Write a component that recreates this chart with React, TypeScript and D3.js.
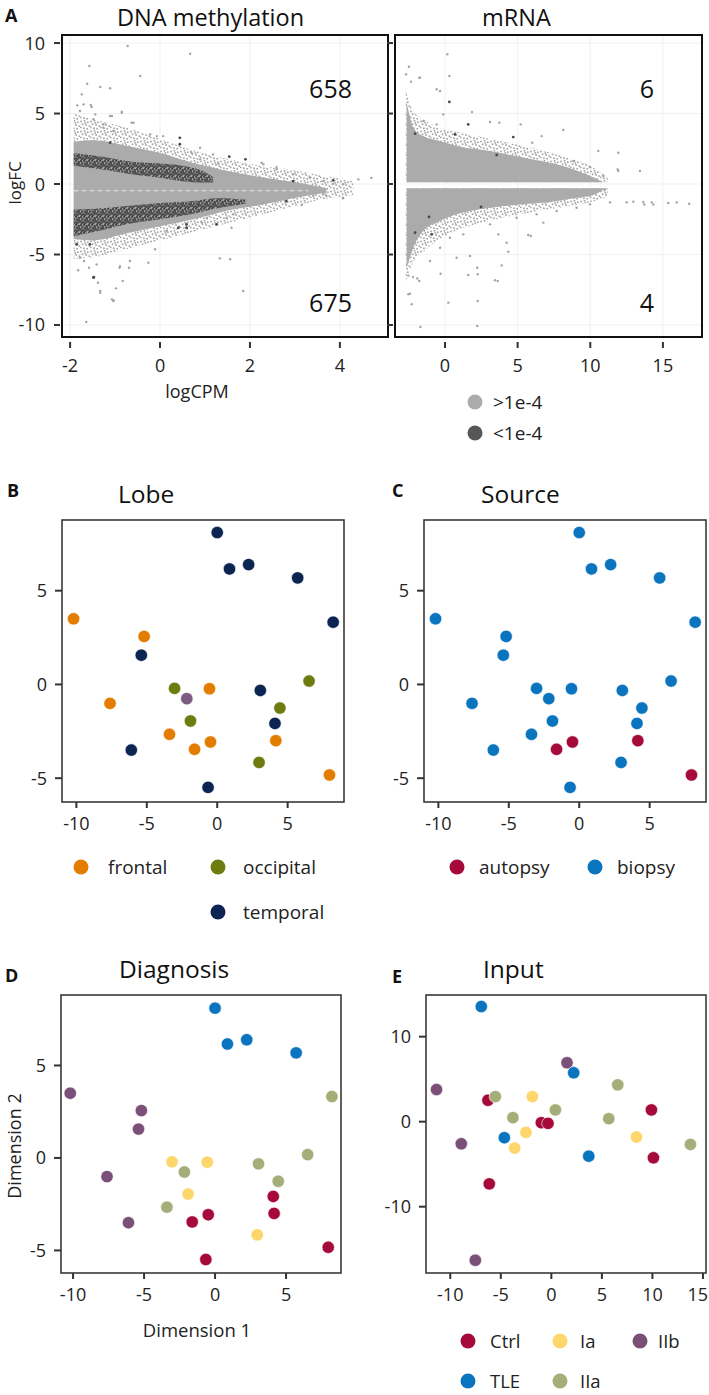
import React from "react";
import * as d3 from "d3";

const FONT = "'Open Sans', 'DejaVu Sans', sans-serif";

// ---------------- Panel A : MA plots ----------------
const maYTicks = [10, 5, 0, -5, -10];
const methXTicks = [-2, 0, 2, 4];
const rnaXTicks = [0, 5, 10, 15];
const methCounts = ["658", "675"];
const rnaCounts = ["6", "4"];
const pLabels = [">1e-4", "<1e-4"];

// DNA methylation cloud envelopes (logCPM -> logFC)
const methHaloCPM = [-1.92, -1.48, -0.74, 0, 0.74, 1.48, 2.22, 2.96, 3.6, 4.3];
const methHaloUp = [5.0, 4.6, 4.0, 3.2, 2.4, 1.8, 1.3, 1.0, 0.6, 0.2];
const methHaloLow = [-5.3, -5.2, -4.6, -4.0, -3.4, -2.8, -2.2, -1.6, -1.1, -0.8];
const methCoreCPM = [-1.92, -1.48, -0.74, 0, 0.74, 1.48, 2.22, 2.96, 3.33, 3.7];
const methCoreUp = [3.0, 3.1, 2.7, 2.2, 1.5, 0.95, 0.5, 0.15, -0.05, -0.3];
const methCoreLow = [-3.9, -4.0, -3.5, -3.0, -2.5, -1.9, -1.5, -1.0, -0.8, -0.6];
const methDarkUpCPM = [-1.92, -1.2, -0.74, 0, 0.5, 0.96, 1.18];
const methDarkUpTop = [2.2, 1.9, 1.63, 1.45, 1.3, 0.9, 0.5];
const methDarkUpBottom = [1.3, 1.0, 0.75, 0.45, 0.2, 0.1, 0.1];
const methDarkLowCPM = [-1.92, -1.2, -0.74, 0, 0.74, 1.3, 1.9];
const methDarkLowTop = [-1.8, -1.7, -1.56, -1.35, -1.2, -1.0, -1.1];
const methDarkLowBottom = [-3.7, -3.2, -2.86, -2.5, -2.1, -1.7, -1.4];
const methZeroLine = [-1.92, 3.3, -0.48]; // x from, x to, logFC

const methOutLight: [number, number][] = [
  [-0.72, 9.79], [0.67, 9.24], [-1.57, 8.37], [-0.44, 7.66], [-1.62, 7.11], [-1.33, 6.88],
  [-1.11, 6.79], [-1.84, 5.58], [-1.52, 5.46], [-0.85, 5.13], [-1.11, 4.82], [-0.59, 4.35],
  [-0.22, 3.52], [0.07, 3.4], [0.89, 2.57], [1.18, 2.1], [2.3, 1.4], [2.59, 1.04], [2.96, 0.69],
  [3.33, 0.45], [3.63, 0.21], [3.85, 0.02], [4.07, -0.02], [4.41, 0.33], [4.07, -0.97],
  [3.63, -0.73], [3.15, -1.49], [2.3, -1.33], [-1.82, -6.12], [-1.69, -5.46], [-1.58, -5.94],
  [-1.38, -7.0], [-1.33, -7.59], [-1.04, -8.3], [-0.98, -7.4], [-0.9, -5.94], [-0.69, -5.94],
  [-0.26, -5.58], [-0.11, -4.63], [1.33, -5.27], [1.85, -7.59], [-1.64, -9.79], [0.15, -3.33],
  [1.04, -2.39], [1.63, -2.15], [-1.78, -5.23], [-1.78, 5.18], [-1.74, 6.36], [-1.26, 4.23],
  [-1.48, 4.59], [-1.03, -8.25], [-0.83, -6.88], [-0.07, 3.4], [0.7, 2.22], [0.89, 1.75],
  [1.3, 1.44], [2.26, 1.51], [2.59, 1.2], [4.7, 0.43], [3.41, -0.85], [3.7, -0.85], [4.07, -1.01],
  [1.59, -3.1], [1.48, -2.39], [0.93, -2.74], [1.56, -5.34], [-0.89, -5.82], [-0.67, -5.46],
  [-1.07, -8.18], [-1.41, -5.7], [-1.33, -7.71], [-1.7, 5.65], [-1.54, 5.6], [-1.44, 4.94],
  [-1.07, 4.82], [-0.85, 5.06], [-0.63, 4.35], [-1.26, 3.99], [-1.04, 3.76],
];
const methOutDark: [number, number][] = [
  [0.44, 3.28], [0.44, 2.82], [1.54, 1.94], [1.9, 1.75], [2.81, -1.21], [-1.47, -6.6],
  [0.59, -2.86], [-1.85, -4.28], [2.96, 0.21], [3.85, 0.26], [-1.56, -4.28], [-1.48, -6.64],
  [1.26, -2.86], [0.41, -3.1], [0.59, -3.1], [-1.11, 2.93],
];

// mRNA cloud envelopes
const rnaHaloCPM = [-2.7, -2.2, -1.49, -0.34, 0.8, 3.1, 5.39, 7.69, 9.98, 11.2];
const rnaHaloUp = [6.8, 5.2, 4.6, 4.0, 3.7, 3.2, 2.7, 2.1, 1.3, 0.5];
const rnaHaloLow = [-7.0, -5.6, -4.8, -3.9, -3.3, -2.6, -2.1, -1.7, -1.3, -0.9];
const rnaCoreCPM = [-2.64, -2.18, -1.49, -0.34, 0.8, 3.1, 5.39, 7.69, 8.83, 9.98, 10.9];
const rnaCoreUp = [5.8, 4.0, 3.4, 3.05, 2.7, 2.34, 1.87, 1.4, 1.04, 0.57, 0.12];
const rnaCoreLow = [-6.0, -4.52, -3.33, -2.62, -2.15, -1.68, -1.44, -1.2, -1.0, -0.85, -0.4];
const rnaGap = [0.12, -0.3];

const rnaOutLight: [number, number][] = [
  [0.16, 9.2], [-2.48, 8.32], [0.3, 7.66], [-1.77, 7.54], [-2.34, 7.26], [-0.57, 6.72], [-0.34, 6.6],
  [1.86, 5.11], [8.14, 3.83], [10.55, 2.34], [11.93, 2.22], [13.42, 0.92], [11.93, 0.92], [6.65, 3.4],
  [6.01, 2.93], [12.5, -1.3], [12.96, -1.25], [13.65, -1.27], [13.72, -1.45], [14.23, -1.3],
  [14.34, -1.45], [15.37, -1.35], [15.95, -1.3], [16.81, -1.4], [11.36, -1.3], [5.73, -3.62],
  [4.36, -4.8], [3.9, -5.77], [3.44, -6.83], [2.25, -6.4], [1.6, -6.45], [-0.3, -6.36], [0.23, -8.42],
  [2.25, -8.3], [-2.29, -8.53], [-2.52, -7.82], [-2.41, -7.78], [-2.52, -6.5], [-2.2, -6.6],
  [-1.9, -6.7], [-1.69, -10.14], [2.22, -10.07], [3.63, -6.88], [5.91, -3.69], [-2.68, 7.78],
  [-1.72, 7.54], [3.1, 4.4], [3.74, 4.35], [5.21, 4.23], [11.88, 1.04], [11.01, -0.38],
  [6.77, -2.74], [4.24, -4.16], [3.67, -3.57], [1.72, -5.1], [0.8, -5.23], [2.22, -5.94],
  [-1.77, -6.88], [-0.12, 4.94], [-1.49, 4.47], [-0.57, 4.23], [8.83, 1.63], [9.98, 1.2],
  [10.9, 0.57], [9.98, -1.44], [9.06, -1.68], [7.69, -1.91], [6.31, -2.15], [4.93, -2.39],
  [3.1, -2.86], [1.26, -3.57], [0.34, -3.81], [-0.34, -4.52], [-1.03, -5.46],
];
const rnaOutDark: [number, number][] = [
  [0.3, 5.82], [1.6, 4.23], [4.7, 3.33], [3.56, 2.06], [-2.06, 3.57], [0.69, 3.52],
  [-1.1, -2.34], [-2.06, -3.45], [-0.92, -3.57], [2.48, -1.63],
];

// ---------------- Panels B-D : MDS of methylation ----------------
const mdsDim1 = [-10.2, -5.19, -5.39, 0.87, 2.23, 5.71, 8.23, -7.61, -3.03, -2.16, -0.55, 3.06, 6.52,
  4.45, -1.9, 4.1, -3.39, -0.48, -1.61, 4.16, -6.1, 2.97, 7.97, -0.65, 0.0];
const mdsDim2 = [3.5, 2.56, 1.56, 6.16, 6.39, 5.68, 3.32, -1.01, -0.21, -0.76, -0.23, -0.32, 0.18,
  -1.26, -1.95, -2.08, -2.66, -3.07, -3.46, -3.0, -3.5, -4.16, -4.83, -5.49, 8.1];
const mdsLobe = ["frontal", "frontal", "temporal", "temporal", "temporal", "temporal", "temporal",
  "frontal", "occipital", "other", "frontal", "temporal", "occipital", "occipital", "occipital",
  "temporal", "frontal", "frontal", "frontal", "frontal", "temporal", "occipital", "frontal",
  "temporal", "temporal"];
const mdsSource = ["biopsy", "biopsy", "biopsy", "biopsy", "biopsy", "biopsy", "biopsy", "biopsy",
  "biopsy", "biopsy", "biopsy", "biopsy", "biopsy", "biopsy", "biopsy", "biopsy", "biopsy",
  "autopsy", "autopsy", "autopsy", "biopsy", "biopsy", "autopsy", "biopsy", "biopsy"];
const mdsDiagnosis = ["IIb", "IIb", "IIb", "TLE", "TLE", "TLE", "IIa", "IIb", "Ia", "IIa", "Ia",
  "IIa", "IIa", "IIa", "Ia", "Ctrl", "IIa", "Ctrl", "Ctrl", "Ctrl", "IIb", "Ia", "Ctrl", "Ctrl", "TLE"];

// ---------------- Panel E : MDS of input ----------------
const inputDim1 = [-6.93, -11.36, 1.55, 2.21, 6.57, -6.27, -5.54, -1.88, 0.4, -3.8, -0.99, -0.33,
  5.68, 9.9, -4.65, -2.51, -3.63, -8.91, 8.42, 13.76, 3.7, 10.1, -6.14, -7.52];
const inputDim2 = [13.54, 3.78, 6.93, 5.75, 4.33, 2.52, 2.95, 2.95, 1.38, 0.47, -0.12, -0.2, 0.35,
  1.38, -1.89, -1.26, -3.11, -2.6, -1.81, -2.68, -4.06, -4.25, -7.32, -16.3];
const inputDiagnosis = ["TLE", "IIb", "IIb", "TLE", "IIa", "Ctrl", "IIa", "Ia", "IIa", "IIa", "Ctrl",
  "Ctrl", "IIa", "Ctrl", "TLE", "Ia", "Ia", "IIb", "Ia", "IIa", "TLE", "Ctrl", "Ctrl", "IIb"];

const lobeLevels = ["frontal", "occipital", "temporal"];
const sourceLevels = ["autopsy", "biopsy"];
const diagLevels = ["Ctrl", "Ia", "IIb", "TLE", "IIa"];
const mdsTicks = [-10, -5, 0, 5];
const mdsYTicks = [-5, 0, 5];
const inputXTicks = [-10, -5, 0, 5, 10, 15];
const inputYTicks = [-10, 0, 10];

const lobeColor = d3.scaleOrdinal<string, string>()
  .domain(["frontal", "occipital", "temporal", "other"])
  .range(["#E27D00", "#6E7B0F", "#0B2452", "#7C5C80"]);
const sourceColor = d3.scaleOrdinal<string, string>()
  .domain(sourceLevels).range(["#A50A3B", "#0B74BF"]);
const diagColor = d3.scaleOrdinal<string, string>()
  .domain(diagLevels).range(["#A50A3B", "#FDD66C", "#7A5078", "#0B74BF", "#A4AE78"]);

// decorative speckle layouts for dense point clouds (within one pattern tile)
const haloSpeckle = [[1, 1.5], [4.5, 0.8], [7.8, 2.2], [2.6, 4.3], [6.1, 5.0], [9.2, 6.1],
  [0.7, 7.4], [3.9, 8.2], [7.2, 8.8], [5.3, 2.9]];
const darkSpeckle = [[1, 1], [4.2, 0.7], [6.8, 2.1], [2.3, 3.4], [5.2, 3.9], [0.6, 5.6],
  [3.5, 6.3], [6.6, 6.0], [1.9, 7.6], [7.4, 4.4], [5.0, 7.5]];

const INK = "#222";
const TICK = "#333";
const maYDomain: [number, number] = [-10.85, 10.57];
const PAGE_W = 709;

type Area = { cpm: number[]; hi: number[]; lo: number[]; fill: string; opacity?: number };

function MAPanel(p: {
  id: string; left: number; right: number; top: number; bottom: number;
  xDomain: [number, number]; xTicks: number[]; yLabels: boolean;
  areas: Area[]; zero?: number[]; light: [number, number][]; dark: [number, number][];
  counts: string[]; countX: number;
}) {
  const x = d3.scaleLinear().domain(p.xDomain).range([p.left, p.right]);
  const y = d3.scaleLinear().domain(maYDomain).range([p.bottom, p.top]);
  const areaPath = (a: Area) =>
    d3.area<number>()
      .x((_, i) => x(a.cpm[i]))
      .y0((_, i) => y(a.lo[i]))
      .y1((_, i) => y(a.hi[i]))
      .curve(d3.curveMonotoneX)(a.cpm) || "";
  return (
    <g>
      <defs>
        <clipPath id={p.id}>
          <rect x={p.left} y={p.top} width={p.right - p.left} height={p.bottom - p.top} />
        </clipPath>
      </defs>
      <g stroke="#ededed" strokeWidth={0.8}>
        {p.xTicks.map((t) => <line key={"gx" + t} x1={x(t)} x2={x(t)} y1={p.top} y2={p.bottom} />)}
        {maYTicks.map((t) => <line key={"gy" + t} x1={p.left} x2={p.right} y1={y(t)} y2={y(t)} />)}
      </g>
      <g clipPath={`url(#${p.id})`}>
        {p.areas.map((a, i) => (
          <path key={i} d={areaPath(a)} fill={a.fill} opacity={a.opacity ?? 1} />
        ))}
        {p.zero && (
          <line x1={x(p.zero[0])} x2={x(p.zero[1])} y1={y(p.zero[2])} y2={y(p.zero[2])}
            stroke="#fff" strokeWidth={0.9} strokeDasharray="5 3" opacity={0.8} />
        )}
        {p.light.map(([a, b], i) => <circle key={"l" + i} cx={x(a)} cy={y(b)} r={1.2} fill="#a4a4a4" />)}
        {p.dark.map(([a, b], i) => <circle key={"d" + i} cx={x(a)} cy={y(b)} r={1.4} fill="#4a4a4a" />)}
      </g>
      <rect x={p.left} y={p.top} width={p.right - p.left} height={p.bottom - p.top}
        fill="none" stroke="#111" strokeWidth={2} />
      {maYTicks.map((t) => (
        <g key={"yt" + t}>
          <line x1={p.left - 8} x2={p.left - 2} y1={y(t)} y2={y(t)} stroke={TICK} strokeWidth={2} />
          {p.yLabels && (
            <text x={p.left - 17} y={y(t)} dy="0.36em" textAnchor="end" fontSize={18} fill={INK}>{t}</text>
          )}
        </g>
      ))}
      {p.xTicks.map((t) => (
        <g key={"xt" + t}>
          <line x1={x(t)} x2={x(t)} y1={p.bottom + 5} y2={p.bottom + 11} stroke={TICK} strokeWidth={2} />
          <text x={x(t)} y={p.bottom + 35} textAnchor="middle" fontSize={18} fill={INK}>{t}</text>
        </g>
      ))}
      <text x={p.countX} y={p.top + 63} textAnchor="end" fontSize={25} fill="#111">{p.counts[0]}</text>
      <text x={p.countX} y={p.bottom - 25} textAnchor="end" fontSize={25} fill="#111">{p.counts[1]}</text>
    </g>
  );
}

function MDSPanel(p: {
  id: string; left: number; right: number; top: number; bottom: number;
  xDomain: [number, number]; yDomain: [number, number]; xTicks: number[]; yTicks: number[];
  xs: number[]; ys: number[]; groups: string[]; color: (g: string) => string;
}) {
  const x = d3.scaleLinear().domain(p.xDomain).range([p.left, p.right]);
  const y = d3.scaleLinear().domain(p.yDomain).range([p.bottom, p.top]);
  return (
    <g>
      {p.xs.map((v, i) => (
        <circle key={i} cx={x(v)} cy={y(p.ys[i])} r={6.2} fill={p.color(p.groups[i])}
          stroke="#fff" strokeWidth={0.6} />
      ))}
      <rect x={p.left} y={p.top} width={p.right - p.left} height={p.bottom - p.top}
        fill="none" stroke="#3a3a3a" strokeWidth={1.6} />
      {p.yTicks.map((t) => (
        <g key={"y" + t}>
          <line x1={p.left - 7} x2={p.left} y1={y(t)} y2={y(t)} stroke={TICK} strokeWidth={2} />
          <text x={p.left - 15} y={y(t)} dy="0.36em" textAnchor="end" fontSize={18} fill={INK}>{t}</text>
        </g>
      ))}
      {p.xTicks.map((t) => {
        const cx = x(t);
        const nearEdge = cx + 11 > PAGE_W;
        return (
          <g key={"x" + t}>
            <line x1={cx} x2={cx} y1={p.bottom} y2={p.bottom + 6} stroke={TICK} strokeWidth={2} />
            <text x={nearEdge ? PAGE_W - 1 : cx} y={p.bottom + 28}
              textAnchor={nearEdge ? "end" : "middle"} fontSize={18} fill={INK}>{t}</text>
          </g>
        );
      })}
    </g>
  );
}

function Legend(p: { labels: string[]; color: (g: string) => string; pos: number[][]; r?: number; size?: number }) {
  return (
    <g>
      {p.labels.map((lab, i) => (
        <g key={lab}>
          <circle cx={p.pos[i][0]} cy={p.pos[i][1]} r={p.r ?? 7.5} fill={p.color(lab)} />
          <text x={p.pos[i][2]} y={p.pos[i][1]} dy="0.36em" fontSize={p.size ?? 19} fill={INK}>{lab}</text>
        </g>
      ))}
    </g>
  );
}

export default function App() {
  const rnaGapTop = rnaHaloCPM.map(() => rnaGap[0]);
  const rnaGapBottom = rnaHaloCPM.map(() => rnaGap[1]);
  const rnaCoreGapTop = rnaCoreCPM.map(() => rnaGap[0]);
  const rnaCoreGapBottom = rnaCoreCPM.map(() => rnaGap[1]);
  const pColor = d3.scaleOrdinal<string, string>().domain(pLabels).range(["#ababab", "#575757"]);

  return (
    <div style={{ position: "absolute", left: 0, top: 0, background: "#fff" }}>
      <svg width={709} height={1395} fontFamily={FONT} style={{ display: "block" }}>
        <defs>
          <pattern id="haloDots" width={10} height={10} patternUnits="userSpaceOnUse">
            {haloSpeckle.map(([cx, cy], i) => <circle key={i} cx={cx} cy={cy} r={0.95} fill="#a6a6a6" />)}
          </pattern>
          <pattern id="darkDots" width={8} height={8} patternUnits="userSpaceOnUse">
            <rect width={8} height={8} fill="#a8a8a8" />
            {darkSpeckle.map(([cx, cy], i) => <circle key={i} cx={cx} cy={cy} r={1.3} fill="#4c4c4c" />)}
          </pattern>
        </defs>
        <rect width={709} height={1395} fill="#fff" />

        {/* ---------- A ---------- */}
        <text x={5} y={22} fontSize={18} fontWeight="bold" fill="#111">A</text>
        <text x={117} y={26} fontSize={23.5} fill="#111">DNA methylation</text>
        <text x={482} y={26} fontSize={23.5} fill="#111">mRNA</text>
        <MAPanel id="clipMeth" left={62} right={388} top={35} bottom={337}
          xDomain={[-2.18, 5.07]} xTicks={methXTicks} yLabels={true}
          areas={[
            { cpm: methHaloCPM, hi: methHaloUp, lo: methHaloLow, fill: "url(#haloDots)" },
            { cpm: methCoreCPM, hi: methCoreUp, lo: methCoreLow, fill: "#ababab" },
            { cpm: methDarkUpCPM, hi: methDarkUpTop, lo: methDarkUpBottom, fill: "url(#darkDots)" },
            { cpm: methDarkLowCPM, hi: methDarkLowTop, lo: methDarkLowBottom, fill: "url(#darkDots)" },
          ]}
          zero={methZeroLine} light={methOutLight} dark={methOutDark}
          counts={methCounts} countX={352} />
        <MAPanel id="clipRna" left={395} right={702} top={35} bottom={337}
          xDomain={[-3.44, 17.69]} xTicks={rnaXTicks} yLabels={false}
          areas={[
            { cpm: rnaHaloCPM, hi: rnaHaloUp, lo: rnaGapTop, fill: "url(#haloDots)" },
            { cpm: rnaHaloCPM, hi: rnaGapBottom, lo: rnaHaloLow, fill: "url(#haloDots)" },
            { cpm: rnaCoreCPM, hi: rnaCoreUp, lo: rnaCoreGapTop, fill: "#ababab" },
            { cpm: rnaCoreCPM, hi: rnaCoreGapBottom, lo: rnaCoreLow, fill: "#ababab" },
          ]}
          light={rnaOutLight} dark={rnaOutDark} counts={rnaCounts} countX={654} />
        <text transform="translate(21,183) rotate(-90)" textAnchor="middle" fontSize={17} fill={INK}>logFC</text>
        <text x={197} y={398} textAnchor="middle" fontSize={18} fill={INK}>logCPM</text>
        <Legend labels={pLabels} color={pColor} pos={[[475, 402, 493], [475, 433, 493]]} r={7.5} />

        {/* ---------- B ---------- */}
        <text x={7} y={497} fontSize={18} fontWeight="bold" fill="#111">B</text>
        <text x={118} y={503} fontSize={24.5} fill="#111">Lobe</text>
        <MDSPanel id="b" left={62} right={344} top={520} bottom={802}
          xDomain={[-11.02, 9.0]} yDomain={[-6.27, 8.77]} xTicks={mdsTicks} yTicks={mdsYTicks}
          xs={mdsDim1} ys={mdsDim2} groups={mdsLobe} color={(g) => lobeColor(g)} />
        <Legend labels={lobeLevels} color={(g) => lobeColor(g)}
          pos={[[81, 867, 108], [218, 867, 243], [218, 912, 243]]} />

        {/* ---------- C ---------- */}
        <text x={392} y={497} fontSize={18} fontWeight="bold" fill="#111">C</text>
        <text x={481} y={503} fontSize={24.5} fill="#111">Source</text>
        <MDSPanel id="c" left={424} right={706} top={520} bottom={802}
          xDomain={[-11.02, 9.0]} yDomain={[-6.27, 8.77]} xTicks={mdsTicks} yTicks={mdsYTicks}
          xs={mdsDim1} ys={mdsDim2} groups={mdsSource} color={(g) => sourceColor(g)} />
        <Legend labels={sourceLevels} color={(g) => sourceColor(g)}
          pos={[[457, 867, 479], [595, 867, 617]]} />

        {/* ---------- D ---------- */}
        <text x={5} y={982} fontSize={18} fontWeight="bold" fill="#111">D</text>
        <text x={119} y={978} fontSize={24.5} fill="#111">Diagnosis</text>
        <MDSPanel id="d" left={61} right={341} top={995} bottom={1273}
          xDomain={[-10.85, 8.87]} yDomain={[-6.22, 8.81]} xTicks={mdsTicks} yTicks={mdsYTicks}
          xs={mdsDim1} ys={mdsDim2} groups={mdsDiagnosis} color={(g) => diagColor(g)} />
        <text x={197} y={1337} textAnchor="middle" fontSize={18.5} fill={INK}>Dimension 1</text>
        <text transform="translate(21,1146) rotate(-90)" textAnchor="middle" fontSize={18} fill={INK}>Dimension 2</text>

        {/* ---------- E ---------- */}
        <text x={392} y={983} fontSize={18} fontWeight="bold" fill="#111">E</text>
        <text x={483} y={978} fontSize={24.5} fill="#111">Input</text>
        <MDSPanel id="e" left={426} right={706} top={995} bottom={1273}
          xDomain={[-12.4, 15.3]} yDomain={[-17.8, 14.9]} xTicks={inputXTicks} yTicks={inputYTicks}
          xs={inputDim1} ys={inputDim2} groups={inputDiagnosis} color={(g) => diagColor(g)} />
        <Legend labels={diagLevels} color={(g) => diagColor(g)} size={18.5}
          pos={[[468, 1341, 490], [560, 1341, 580], [640, 1341, 658], [468, 1381, 490], [560, 1381, 580]]} />
      </svg>
    </div>
  );
}
